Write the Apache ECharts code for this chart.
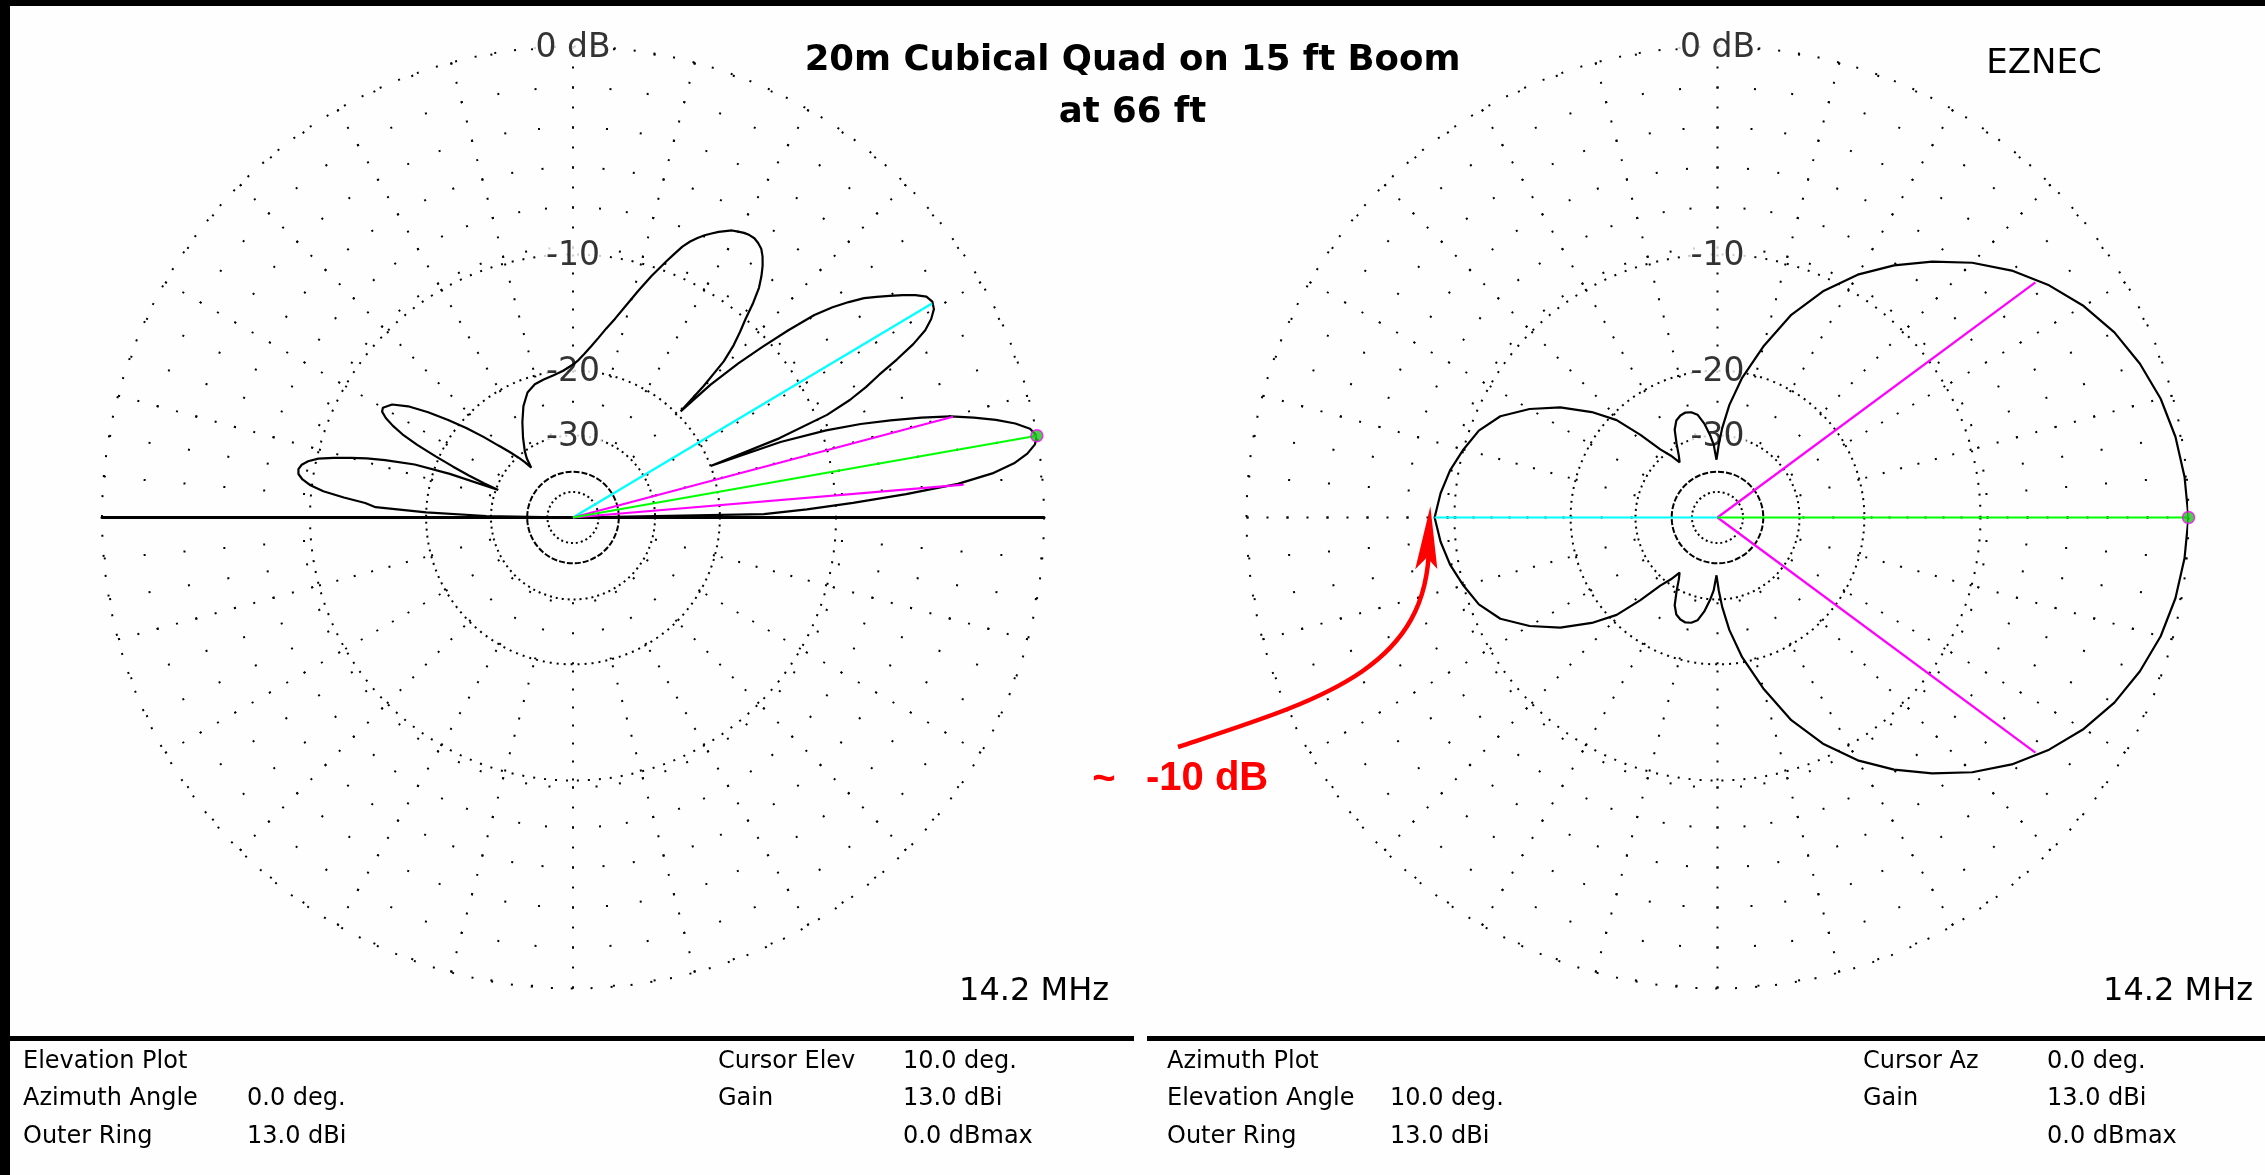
<!DOCTYPE html>
<html><head><meta charset="utf-8">
<script src="https://cdn.jsdelivr.net/npm/echarts@6/dist/echarts.min.js"></script>
<style>html,body{margin:0;padding:0;background:#fdfefd;} #c{width:2265px;height:1175px;}</style>
</head><body><div id="c"></div>
<script>
// ---------------- DATA ----------------
// Elevation pattern (azimuth 0 deg), angle in degrees, gain in dB relative to 13.0 dBi
const elevAngles = [0,1,2,3,4,5,6,7,8,9,10,11,12,13,14,15,16,17,18,19,20,20.5,21,22,23,24,25,26,27,28,29,30,31,32,33,34,35,36,37,38,39,40,41,42,43,44,44.6,45.2,46,47,48,49,50,51,52,53,54,55,56,57,58,59,60,61,62,63,64,65,66,67,68,69,70,72,74,76,78,80,82,84,86,88,90,94,98,102,106,110,114,118,122,126,128,130,131,132,134,136,138,140,142,144,146,148,150,151,152,153,154,155,156,157,158,159,159.8,160.5,161.5,163,164,165,166,167,168,169,170,171,172,173,174,175,176,177,178,179,180];
const elevGain = [-99,-15.5,-12,-8.9,-5.9,-3.4,-1.9,-1.0,-0.45,-0.12,0,-0.2,-0.7,-1.4,-2.25,-3.2,-4.5,-6.0,-7.6,-9.7,-13,-20,-13,-9.3,-7.7,-6.6,-5.7,-4.6,-3.6,-2.85,-2.4,-2.1,-2.0,-2.1,-2.45,-2.9,-3.4,-3.9,-4.4,-5.1,-5.9,-6.9,-8.6,-10.5,-12.6,-15.5,-19.5,-16,-13.3,-11.9,-10.9,-10.0,-8.9,-8.0,-7.4,-6.9,-6.5,-6.2,-6.05,-5.95,-5.95,-6.0,-6.1,-6.2,-6.4,-6.6,-6.85,-7.1,-7.4,-7.75,-8.2,-8.8,-9.4,-10.6,-11.9,-13.2,-14.4,-15.4,-16.4,-17.3,-18.1,-18.8,-19.3,-20,-20.4,-20.7,-21,-21.7,-23.2,-25.3,-27.6,-30,-31.5,-34,-32,-30.5,-28.2,-26,-23.4,-20.9,-18.7,-16.6,-14.8,-13.6,-13.1,-13.2,-13.7,-14.5,-15.6,-17.3,-19.6,-22,-24.6,-27.5,-30.5,-22,-17.8,-15,-13.5,-12.3,-11.1,-10.1,-9.5,-9.15,-9.0,-9.05,-9.35,-9.9,-10.8,-12.3,-14,-14.9,-20,-29,-99];

// Azimuth pattern (elevation 10 deg)
const azAngles = [0,5,10,15,20,25,30,35,40,45,50,55,60,65,70,75,80,84,87,89,91,93,95,98,101,104,107,110,113,116,119,122,124.5,127,130,133,136,140,145,150,155,160,165,170,175,180,185,190,195,200,205,210,215,220,224,227,230,233,235.5,238,241,244,247,250,253,256,259,262,265,267,269,271,273,276,280,285,290,295,300,305,310,315,320,325,330,335,340,345,350,355,360];
const azGain = [0,-0.08,-0.22,-0.45,-0.8,-1.25,-1.85,-2.6,-3.5,-4.6,-5.9,-7.3,-8.9,-10.9,-13.4,-16.8,-20.6,-24.5,-28.5,-32,-36,-32,-30,-27.5,-25.8,-25.2,-25.0,-25.2,-25.7,-27,-29.5,-32,-33.5,-31,-28.6,-24.5,-20.8,-18.1,-15.4,-13.3,-11.6,-10.6,-10.0,-9.45,-9.05,-8.75,-9.05,-9.45,-10.0,-10.6,-11.6,-13.3,-15.4,-18.1,-20.8,-24.5,-28.6,-31,-33.5,-32,-29.5,-27,-25.7,-25.2,-25.0,-25.2,-25.8,-27.5,-30,-32,-36,-32,-28.5,-24.5,-20.6,-16.8,-13.4,-10.9,-8.9,-7.3,-5.9,-4.6,-3.5,-2.6,-1.85,-1.25,-0.8,-0.45,-0.22,-0.08,0];

// Marker lines [angle, dB]
const elevCursor = [10, 0];
const elevBeamwidth = [[4.8, -3.15], [14.85, -3.1]];
const elevSidelobe = [30.8, -2.05];
const azCursor = [0, 0];
const azBeamwidth = [[36.5, -3.0], [323.5, -3.0]];
const azFrontBack = [180, -8.75];

// Grid rings (dB) and labels
const ringLevels = [0, -10, -20, -30, -40, -50];
const ringLabelLevels = [0, -10, -20, -30];
const ringLabels = ['0 dB', '-10', '-20', '-30'];

// Info panel texts
const elevInfoLeft = [['Elevation Plot', ''], ['Azimuth Angle', '0.0 deg.'], ['Outer Ring', '13.0 dBi']];
const elevInfoRight = [['Cursor Elev', '10.0 deg.'], ['Gain', '13.0 dBi'], ['', '0.0 dBmax']];
const azInfoLeft = [['Azimuth Plot', ''], ['Elevation Angle', '10.0 deg.'], ['Outer Ring', '13.0 dBi']];
const azInfoRight = [['Cursor Az', '0.0 deg.'], ['Gain', '13.0 dBi'], ['', '0.0 dBmax']];
const freqLabel = '14.2 MHz';
const titleLines = ['20m Cubical Quad on 15 ft Boom', 'at 66 ft'];

// ---------------- LAYOUT ----------------
const R = 471;
const centers = [[573, 517.5], [1717.5, 517.5]];
const BG = '#fdfefd';
const FONT = 'DejaVu Sans';
// ARRL log scale: radius ratio 0.89 per 2 dB
const arrl = db => Math.pow(0.89, -db / 2);

const ringDash = {'-10': [2, 9], '-20': [2, 5], '-30': [2, 4], '-40': [6, 2], '-50': [2, 3]};
const radialSets = [
  {inner: -10, outer: 0, interval: 5, dash: [2, 38]},
  {inner: -10, outer: 0, interval: 15, dash: [2, 18]},
  {inner: -20, outer: -10, interval: 15, dash: [2, 16]},
  {inner: -30, outer: -20, interval: 15, dash: [2, 28]}
];

const polar = [], angleAxis = [], radiusAxis = [], series = [];
function addPolar(center, radius, ang, rad) {
  polar.push({center: center, radius: radius});
  const i = polar.length - 1;
  angleAxis.push(Object.assign({polarIndex: i, type: 'value', min: 0, max: 360, startAngle: 0, clockwise: false,
    axisLine: {show: false}, axisTick: {show: false}, axisLabel: {show: false}, splitLine: {show: false}, silent: true}, ang || {}));
  radiusAxis.push(Object.assign({polarIndex: i, type: 'value', min: 0, max: 1,
    axisLine: {show: false}, axisTick: {show: false}, axisLabel: {show: false}, splitLine: {show: false}, silent: true}, rad || {}));
  return i;
}

function buildPlot(center, isElev) {
  const main = addPolar(center, R,
    {axisLine: {show: true, lineStyle: {color: '#000', width: 2, type: [2, 18]}}},
    isElev ? {axisLine: {show: true, lineStyle: {color: '#000', width: 3}}} : {});
  if (isElev) addPolar(center, R, {startAngle: 180}, {axisLine: {show: true, lineStyle: {color: '#000', width: 3}}});
  ringLevels.slice(1).forEach(db => addPolar(center, R * arrl(db),
    {axisLine: {show: true, lineStyle: {color: '#000', width: 2, type: ringDash[String(db)]}}}));
  radialSets.forEach(s => addPolar(center, [R * arrl(s.inner), R * arrl(s.outer)],
    {interval: s.interval, splitLine: {show: true, lineStyle: {color: '#000', width: 2, type: s.dash}}}));
  // ring labels
  series.push({type: 'scatter', coordinateSystem: 'polar', polarIndex: main, symbolSize: 0, z: 3, silent: true,
    data: ringLabelLevels.map(db => [arrl(db), 90]),
    label: {show: true, position: 'inside', offset: [0, 2], formatter: p => ringLabels[p.dataIndex], color: '#000',
      fontFamily: FONT, fontSize: 33, backgroundColor: BG, padding: [0, 2], lineHeight: 30}});
  return main;
}

const pL = buildPlot(centers[0], true);
const pR = buildPlot(centers[1], false);

function patternSeries(pi, angles, gains) {
  return {type: 'line', coordinateSystem: 'polar', polarIndex: pi, showSymbol: false, silent: true, z: 5,
    lineStyle: {color: '#000', width: 2.2}, data: angles.map((a, i) => [arrl(gains[i]), a])};
}
function rayLine(pi, ray, color) {
  return {type: 'line', coordinateSystem: 'polar', polarIndex: pi, showSymbol: false, silent: true, z: 6,
    lineStyle: {color: color, width: 2.2}, data: [[0, ray[0]], [arrl(ray[1]), ray[0]]]};
}
function cursorMark(pi, ray) {
  return {type: 'scatter', coordinateSystem: 'polar', polarIndex: pi, z: 8, silent: true, symbolSize: 12,
    itemStyle: {color: '#20c020', borderColor: '#ff00ff', borderWidth: 1.5}, data: [[arrl(ray[1]), ray[0]]]};
}

series.push(patternSeries(pL, elevAngles, elevGain));
series.push(rayLine(pL, elevSidelobe, '#00ffff'));
elevBeamwidth.forEach(r => series.push(rayLine(pL, r, '#ff00ff')));
series.push(rayLine(pL, elevCursor, '#00ff00'));
series.push(cursorMark(pL, elevCursor));

series.push(patternSeries(pR, azAngles, azGain));
series.push(rayLine(pR, azFrontBack, '#00ffff'));
azBeamwidth.forEach(r => series.push(rayLine(pR, r, '#ff00ff')));
series.push(rayLine(pR, azCursor, '#00ff00'));
series.push(cursorMark(pR, azCursor));

// ---------------- GRAPHICS ----------------
const graphic = [];
function txt(x, y, text, opt) {
  graphic.push({type: 'text', x: x, y: y, silent: true, z: 10,
    style: Object.assign({text: text, fill: '#000', font: '24px "' + FONT + '"', textAlign: 'left', textVerticalAlign: 'middle'}, opt || {})});
}
// frame
graphic.push({type: 'rect', shape: {x: 0, y: 0, width: 2265, height: 6}, style: {fill: '#000'}, z: 20, silent: true});
graphic.push({type: 'rect', shape: {x: 0, y: 0, width: 10, height: 1175}, style: {fill: '#000'}, z: 20, silent: true});
graphic.push({type: 'rect', shape: {x: 10, y: 1036, width: 1124, height: 5}, style: {fill: '#000'}, z: 20, silent: true});
graphic.push({type: 'rect', shape: {x: 1147, y: 1036, width: 1118, height: 5}, style: {fill: '#000'}, z: 20, silent: true});

const rowsY = [1062, 1099, 1137];
function infoBlock(rows, x1, x2) {
  rows.forEach((r, i) => { if (r[0]) txt(x1, rowsY[i], r[0]); if (r[1]) txt(x2, rowsY[i], r[1]); });
}
infoBlock(elevInfoLeft, 23, 247);
infoBlock(elevInfoRight, 718, 903);
infoBlock(azInfoLeft, 1167, 1390);
infoBlock(azInfoRight, 1863, 2047);

txt(1109, 992, freqLabel, {font: '32px "' + FONT + '"', textAlign: 'right'});
txt(2253, 992, freqLabel, {font: '32px "' + FONT + '"', textAlign: 'right'});
txt(2044, 64, 'EZNEC', {font: '34px "' + FONT + '"', textAlign: 'center'});

// red annotation
graphic.push({type: 'bezierCurve', silent: true, z: 12,
  shape: {x1: 1178, y1: 747, cpx1: 1320, cpy1: 700, cpx2: 1428, cpy2: 670, x2: 1429, y2: 545},
  style: {stroke: '#ff0000', lineWidth: 4.5, fill: null}});
graphic.push({type: 'polygon', silent: true, z: 12,
  shape: {points: [[1430, 512], [1417, 566], [1427, 556], [1436, 566]]}, style: {fill: '#ff0000', stroke: '#ff0000', lineWidth: 2}});
txt(1104, 780, '~', {font: 'bold 40px "Liberation Sans"', fill: '#ff0000', textAlign: 'center'});
txt(1146, 779, '-10 dB', {font: 'bold 40px "Liberation Sans"', fill: '#ff0000'});

const chart = echarts.init(document.getElementById('c'), null, {renderer: 'canvas', width: 2265, height: 1175});
chart.setOption({
  backgroundColor: BG,
  animation: false,
  title: {text: titleLines.join('\n'), left: 'center', top: 35, padding: 0,
    textStyle: {fontFamily: FONT, fontWeight: 'bold', fontSize: 35.5, lineHeight: 52, color: '#000'}},
  polar: polar, angleAxis: angleAxis, radiusAxis: radiusAxis,
  series: series, graphic: graphic
});
</script></body></html>
